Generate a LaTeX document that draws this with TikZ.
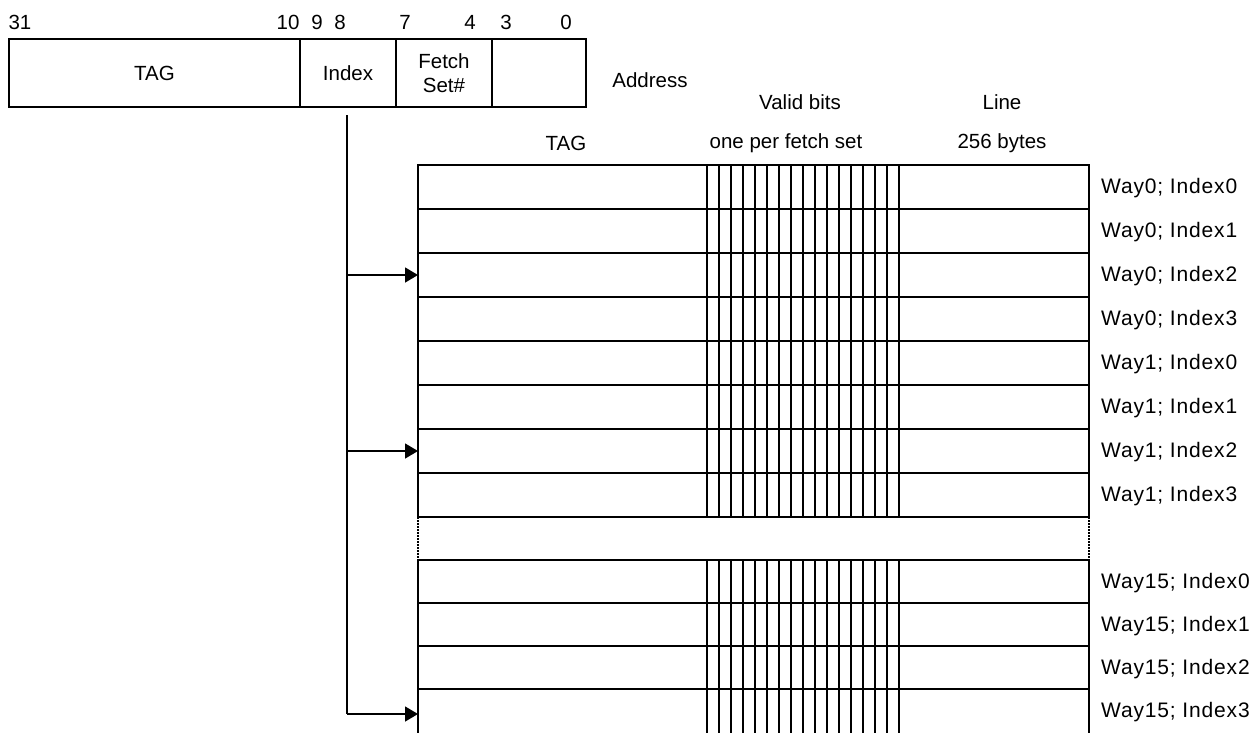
\documentclass[tikz,border=0pt]{standalone}
\usepackage{fontspec}
\setmainfont{Liberation Sans}
\usetikzlibrary{arrows.meta, positioning, calc}

\begin{document}
\begin{tikzpicture}[x=1pt, y=-1pt,
field/.style={draw, line width=1.5pt, minimum height=68pt, inner sep=0pt, outer sep=0pt, align=center, font=\fontsize{20.5}{24}\selectfont},
cacheline/.style={draw, line width=1.5pt, minimum width=671pt, inner sep=0pt, outer sep=0pt, anchor=north west},
txt/.style={inner sep=0pt, font=\fontsize{20.5}{24}\selectfont},
waytxt/.style={inner sep=0pt, anchor=base west, font=\fontsize{21}{24}\selectfont\addfontfeatures{LetterSpace=4}},
bitline/.style={line width=1.5pt},
gapline/.style={line width=1.2pt, dash pattern=on 1.5pt off 1.5pt},
idxarrow/.style={line width=1.5pt, -{Triangle[length=13pt,width=15pt]}}
]
\useasboundingbox (0,0) rectangle (1253,732);

% Address
\node[field, minimum width=291pt, anchor=north west] (tag) at (9,39) {TAG};
\node[field, minimum width=96pt, right=0pt of tag] (index) {Index};
\node[field, minimum width=96pt, right=0pt of index] (fetch) {Fetch\\Set\#};
\node[field, minimum width=94pt, right=0pt of fetch] (offset) {};
\node[txt] (address) at (650,80) {Address};

% Bit numbers
\node[txt] (b31) at (20,22) {31};
\node[txt] (b10) at (288,22) {10};
\node[txt] (b9) at (317,22) {9};
\node[txt] (b8) at (340,22) {8};
\node[txt] (b7) at (405,22) {7};
\node[txt] (b4) at (470,22) {4};
\node[txt] (b3) at (506,22) {3};
\node[txt] (b0) at (566,22) {0};

% Headers
\node[txt] (hdrtag) at (566,143) {TAG};
\node[txt] (valid) at (800,102) {Valid bits};
\node[txt] (perset) at (786,143) {one per fetch set};
\node[txt] (line) at (1002,102) {Line};
\node[txt] (bytes) at (1002,143) {256 bytes};

% Cache lines
\foreach \n/\top/\ht/\lab in {0/165/44/{Way0; Index0}, 1/209/44/{Way0; Index1},
  2/253/44/{Way0; Index2}, 3/297/44/{Way0; Index3}, 4/341/44/{Way1; Index0},
  5/385/44/{Way1; Index1}, 6/429/44/{Way1; Index2}, 7/473/44/{Way1; Index3},
  8/560/43/{Way15; Index0}, 9/603/43/{Way15; Index1}, 10/646/43/{Way15; Index2},
  11/689/50/{Way15; Index3}}{
  \node[cacheline, minimum height=\ht] (row\n) at (418,\top) {};
  \node[waytxt] (lab\n) at ($(row\n.north east)+(12,28)$) {\lab};
}

% Gap
\draw[gapline] (row7.south west) -- (row8.north west);
\draw[gapline] (row7.south east) -- (row8.north east);

% Valid bits
\foreach \i in {0,...,16}{
  \draw[bitline] ($(row0.north west)+(289+12*\i,0)$) -- ($(row7.south west)+(289+12*\i,0)$);
  \draw[bitline] ($(row8.north west)+(289+12*\i,0)$) -- ($(row11.south west)+(289+12*\i,0)$);
}

% Index
\coordinate (idxtop) at ($(index.south)+(-1,8)$);
\draw[bitline] (idxtop) -- (idxtop |- row11.west);
\draw[idxarrow] (idxtop |- row2.west) -- (row2.west);
\draw[idxarrow] (idxtop |- row6.west) -- (row6.west);
\draw[idxarrow] (idxtop |- row11.west) -- (row11.west);

\end{tikzpicture}
\end{document}
